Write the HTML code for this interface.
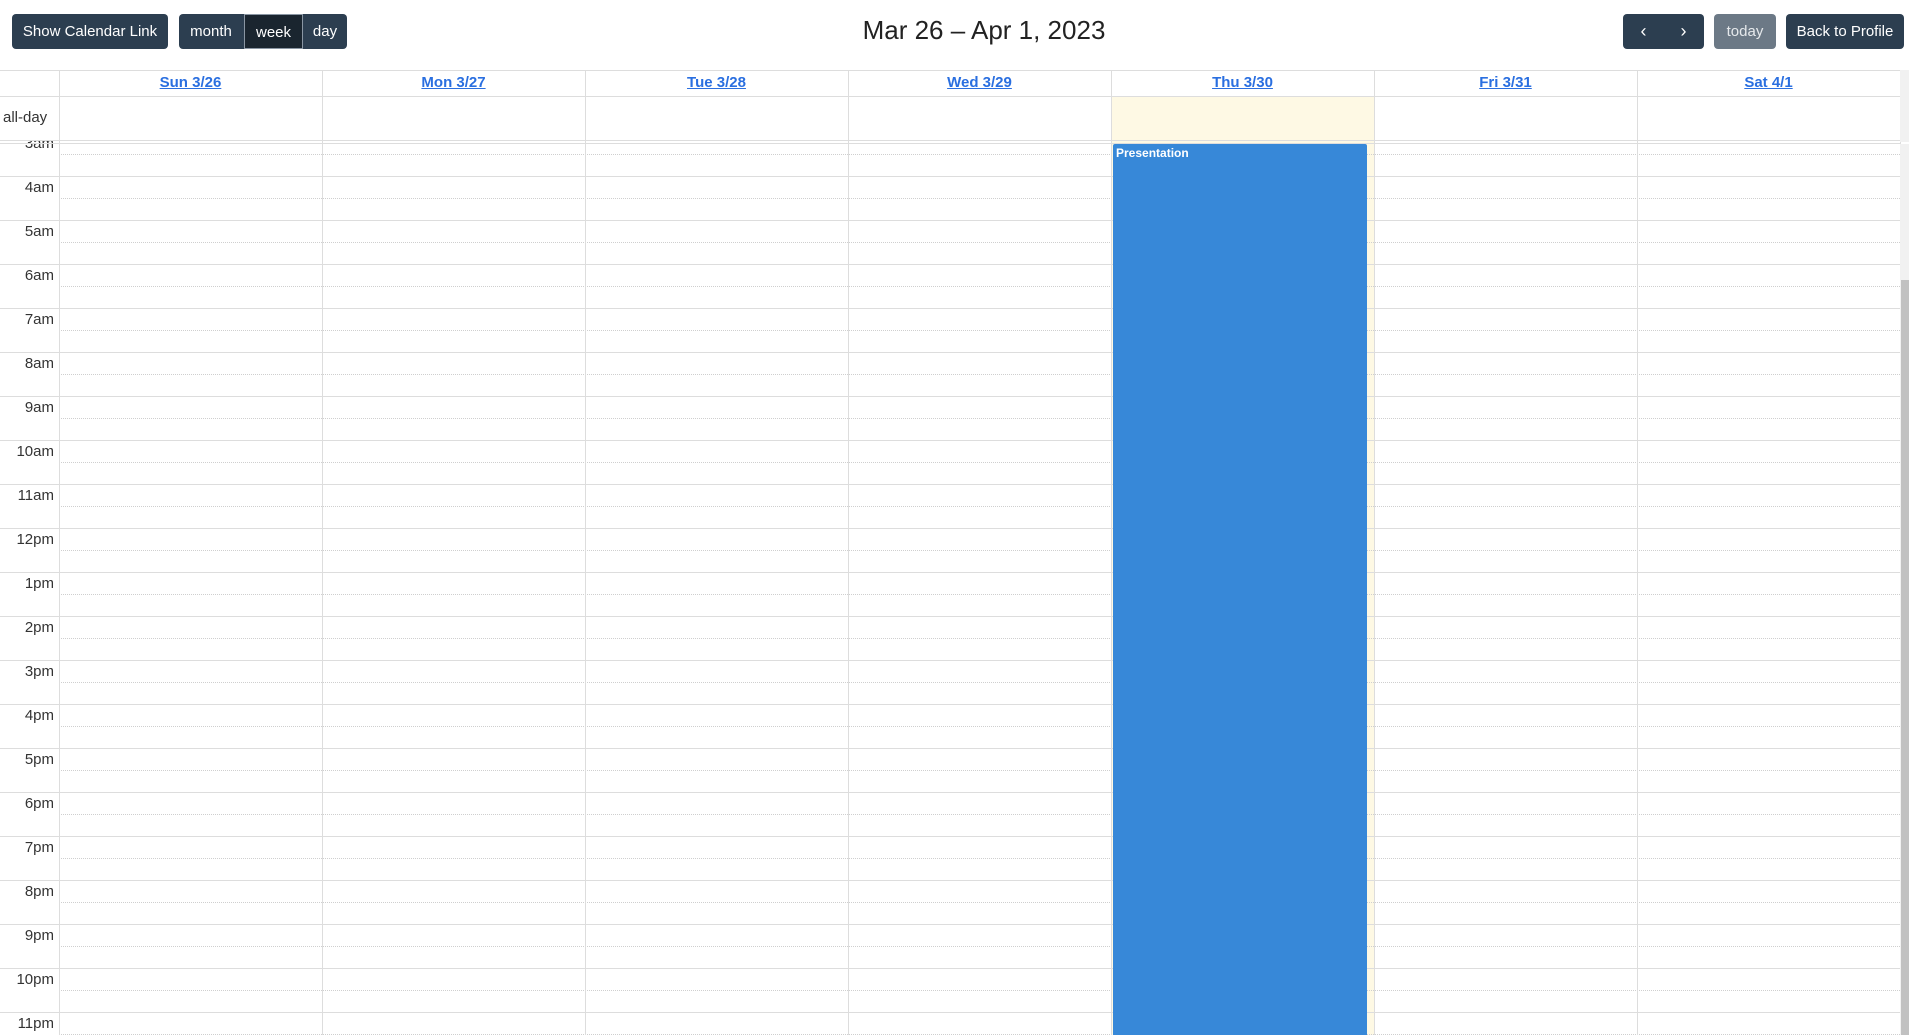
<!DOCTYPE html>
<html><head><meta charset="utf-8">
<style>
*{box-sizing:border-box;margin:0;padding:0}
html,body{width:1909px;height:1035px;overflow:hidden;background:#fff;font-family:"Liberation Sans",sans-serif;color:#222}
body{position:relative}
.btn{position:absolute;top:14px;height:35px;background:#2c3e50;color:#fff;font-size:15px;line-height:35px;text-align:center;border-radius:4px}
.abs{position:absolute}
.hl{position:absolute;left:0;width:1900px;height:1px;background:#dddddd}
.dl{position:absolute;left:59px;width:1841px;height:0;border-top:1px dotted #cfcfcf}
.vl{position:absolute;width:1px;background:#dddddd}
.dh{position:absolute;top:70px;height:26px;line-height:26px;text-align:center;color:#2a6fe0;font-weight:bold;font-size:15px;text-decoration:underline}
.tl{position:absolute;left:0;width:54px;text-align:right;font-size:15px;color:#333}
</style></head><body>
<div class="btn" style="left:12px;width:156px">Show Calendar Link</div>
<div class="btn" style="left:179px;width:168px;background:#2c3e50"></div>
<div class="btn" style="left:179px;width:64px;background:transparent">month</div>
<div class="btn" style="left:244px;width:59px;background:#1a252f;border:1px solid #8a96a3;border-radius:0">week</div>
<div class="btn" style="left:303px;width:44px;background:transparent">day</div>
<div class="abs" style="left:784px;width:400px;top:15px;text-align:center;font-size:26px;color:#222">Mar 26 – Apr 1, 2023</div>
<div class="btn" style="left:1623px;width:41px;border-radius:4px 0 0 4px;font-size:18px">&#x2039;</div>
<div class="btn" style="left:1663px;width:41px;border-radius:0 4px 4px 0;font-size:18px">&#x203A;</div>
<div class="btn" style="left:1714px;width:62px;background:#6c7986;color:#e6e9ec">today</div>
<div class="btn" style="left:1786px;width:118px">Back to Profile</div>

<div id="grid"></div>
<div class="abs" style="left:1900px;top:144px;width:9px;height:891px;background:#f1f1f1"></div>
<div class="abs" style="left:1901px;top:280px;width:8px;height:755px;background:#c1c1c1"></div>
<div class="abs" style="left:1900px;top:70px;width:9px;height:72px;background:#f1f1f1"></div>

<script>
const dayLabels=["Sun 3/26","Mon 3/27","Tue 3/28","Wed 3/29","Thu 3/30","Fri 3/31","Sat 4/1"];
const hourLabels=["3am","4am","5am","6am","7am","8am","9am","10am","11am","12pm","1pm","2pm","3pm","4pm","5pm","6pm","7pm","8pm","9pm","10pm","11pm"];
const todayIndex=4;
const eventDay=4;
const eventStartHour=3;
const eventEndHour=24;
const eventTitle="Presentation";

const g=document.getElementById('grid');
const X0=59,CW=263,BODY=144,H0=132,HH=44,FIRST=3,PAGE_H=1035;
function colX(i){return X0+i*CW;}
function hourY(h){return H0+(h-FIRST)*HH;}

const tb=document.createElement('div');tb.className='abs';


tb.style.cssText=`left:${colX(todayIndex)}px;top:97px;width:${CW}px;height:938px;background:#fef9e4`;
g.appendChild(tb);

hourLabels.forEach((lab,i)=>{
  const y=hourY(FIRST+i);
  if(y>=BODY){
    const l=document.createElement('div');l.className='hl';l.style.top=y+'px';
    
    
    g.appendChild(l);
  }
  const d=document.createElement('div');d.className='dl';d.style.top=(y+HH/2)+'px';
  
  
  g.appendChild(d);
  const t=document.createElement('div');t.className='tl';t.textContent=lab;t.style.top=(y+3)+'px';
  
  
  g.appendChild(t);
});

const cov2=document.createElement('div');cov2.className='abs';


cov2.style.cssText='left:0;top:97px;width:1900px;height:44px;background:#fff';
g.appendChild(cov2);
const tb2=document.createElement('div');tb2.className='abs';


tb2.style.cssText=`left:${colX(todayIndex)}px;top:97px;width:${CW}px;height:44px;background:#fef9e4`;
g.appendChild(tb2);

[70,96,140,143].forEach((y)=>{
  const l=document.createElement('div');l.className='hl';l.style.top=y+'px';
  
  
  g.appendChild(l);
});
const adl=document.createElement('div');adl.className='abs';


adl.style.cssText='left:3px;top:109px;font-size:15px;color:#333';adl.textContent='all-day';
g.appendChild(adl);

for(let i=0;i<=7;i++){
  const v=document.createElement('div');v.className='vl';
  
  
  v.style.left=colX(i)+'px';v.style.top='70px';v.style.height='965px';
  g.appendChild(v);
}
dayLabels.forEach((lab,i)=>{
  const h=document.createElement('div');h.className='dh';h.textContent=lab;
  
  
  h.style.left=colX(i)+'px';h.style.width=CW+'px';
  g.appendChild(h);
});

const ev=document.createElement('div');ev.className='abs';


const evTop=Math.max(hourY(eventStartHour),BODY);
const evBottom=Math.min(hourY(eventEndHour),PAGE_H);
ev.style.cssText=`left:${colX(eventDay)+2}px;top:${evTop}px;width:${CW-9}px;height:${evBottom-evTop}px;background:#3788d8;border:1px solid #3788d8;color:#fff;font-size:12px;font-weight:bold;padding:1px 2px;border-radius:2px 2px 0 0`;
ev.textContent=eventTitle;
g.appendChild(ev);
</script>
</body></html>
